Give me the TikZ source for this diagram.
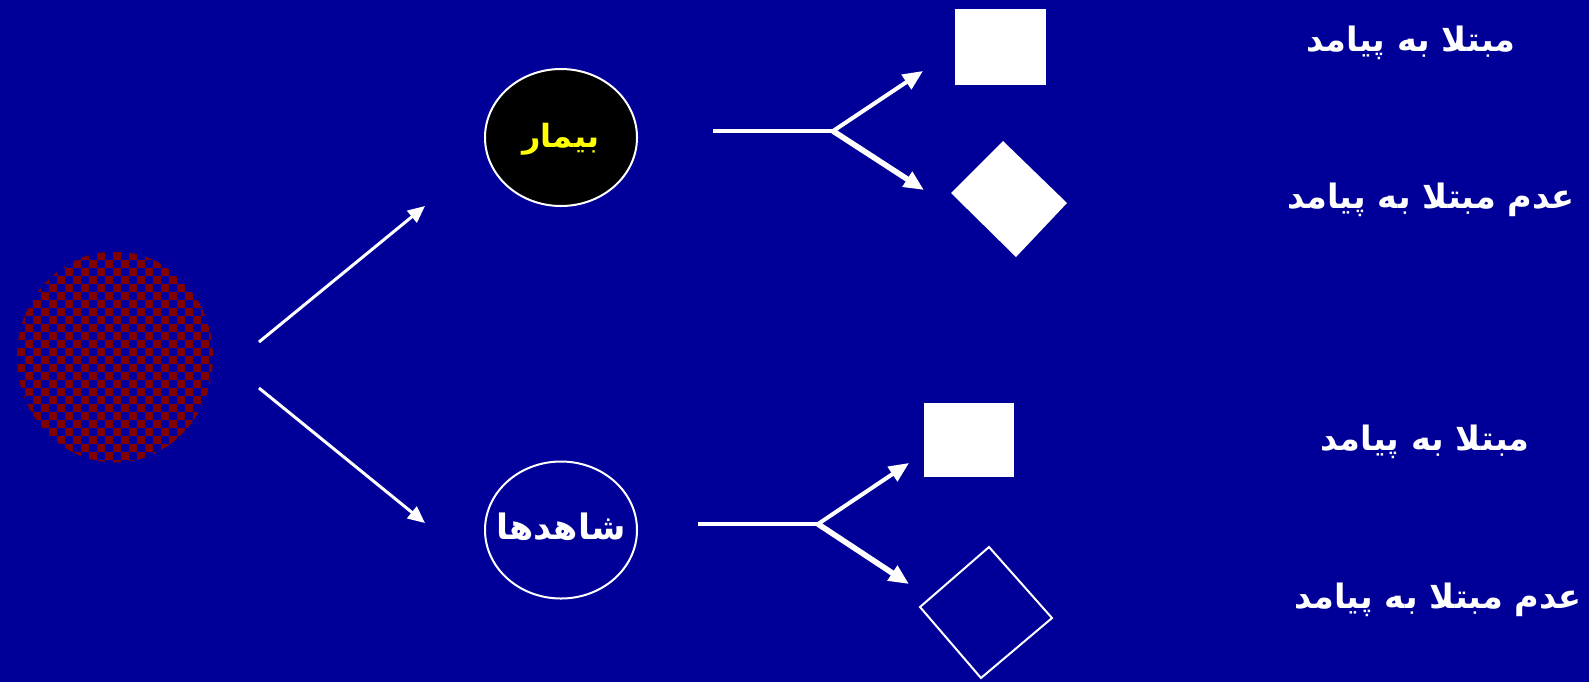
\documentclass[tikz,border=0pt]{standalone}
\usepackage{fontspec}
\usetikzlibrary{arrows.meta,shapes.geometric}
\TeXXeTstate=1
\newfontfamily\fa[Script=Arabic]{DejaVu Sans}
\definecolor{bgblue}{RGB}{0,0,153}
\definecolor{checkred}{RGB}{128,0,0}
\definecolor{txtyellow}{RGB}{255,255,0}
\tikzset{
  thinarrow/.style={draw=white, line width=1.5pt, -{Triangle[length=8.5pt,width=7.5pt]}},
  forkline/.style={draw=white, line width=2pt},
  forkup/.style={draw=white, line width=2pt, -{Triangle[length=10pt,width=8.5pt]}},
  forkdown/.style={draw=white, line width=2.8pt, -{Triangle[length=10pt,width=8.5pt]}},
  label/.style={text=white, font=\fa\bfseries\fontsize{16.8}{20}\selectfont, inner sep=0pt},
  groupnode/.style={ellipse, draw=white, line width=1pt, minimum width=76pt, minimum height=68.5pt, inner sep=0pt},
}
\begin{document}
\begin{tikzpicture}[x=0.5pt,y=-0.5pt]
\fill[bgblue] (0,0) rectangle (1589,682);
\useasboundingbox (0,0) rectangle (1589,682);

% checkered source population
\node[ellipse, minimum width=98pt, minimum height=105.5pt, inner sep=0pt] (src) at (115,357) {};
\begin{scope}
  \clip (115,357) ellipse [x radius=98, y radius=105.5];
  \foreach \i in {0,...,25} {
    \foreach \j in {0,...,13} {
      \pgfmathtruncatemacro{\yy}{252+16*\j+8*mod(\i,2)}
      \pgfmathtruncatemacro{\xx}{17+8*\i}
      \fill[checkred] (\xx,\yy) rectangle ++(8,8);
    }
  }
\end{scope}

% groups
\node[groupnode, fill=black] (sick) at (561,137.5) {};
\node[text=txtyellow, font=\fa\bfseries\fontsize{16}{19}\selectfont, inner sep=0pt] (sicktxt) at (561,139) {\beginR بیمار\endR};
\node[groupnode, fill=bgblue] (ctrl) at (561,530) {};
\node[text=white, font=\fa\bfseries\fontsize{17.5}{21}\selectfont, inner sep=0pt] (ctrltxt) at (561,527) {\beginR شاهدها\endR};

% arrows from source
\coordinate (a1s) at (259,342);
\coordinate (a1e) at (425,206);
\coordinate (a2s) at (259,388);
\coordinate (a2e) at (425,523);
\draw[thinarrow] (a1s) -- (a1e);
\draw[thinarrow] (a2s) -- (a2e);

% upper fork
\coordinate (f1s) at (713,131);
\coordinate (f1j) at (833,131);
\coordinate (f1u) at (923,71);
\coordinate (f1d) at (924,190);
\draw[forkline] (f1s) -- (f1j);
\draw[forkup] (f1j) -- (f1u);
\draw[forkdown] (f1j) -- (f1d);

% lower fork
\coordinate (f2s) at (698,524);
\coordinate (f2j) at (818,524);
\coordinate (f2u) at (909,463);
\coordinate (f2d) at (909,584);
\draw[forkline] (f2s) -- (f2j);
\draw[forkup] (f2j) -- (f2u);
\draw[forkdown] (f2j) -- (f2d);

% outcome shapes
\fill[white] (955,9) rectangle (1046,85);
\coordinate (sq1) at (1000,47);
\fill[white] (1003,141) -- (1067,203) -- (1016,257) -- (951,193) -- cycle;
\coordinate (dm1) at (1009,199);
\fill[white] (924,403) rectangle (1014,477);
\coordinate (sq2) at (969,440);
\draw[white, line width=1pt] (989,547) -- (1052,618) -- (981,678) -- (920,607) -- cycle;
\coordinate (dm2) at (986,612);

% labels
\node[label] (l1) at (1411,43) {\beginR مبتلا به پیامد\endR};
\node[label] (l2) at (1431,200) {\beginR عدم مبتلا به پیامد\endR};
\node[label] (l3) at (1425,442) {\beginR مبتلا به پیامد\endR};
\node[label] (l4) at (1438,600) {\beginR عدم مبتلا به پیامد\endR};
\end{tikzpicture}
\end{document}
